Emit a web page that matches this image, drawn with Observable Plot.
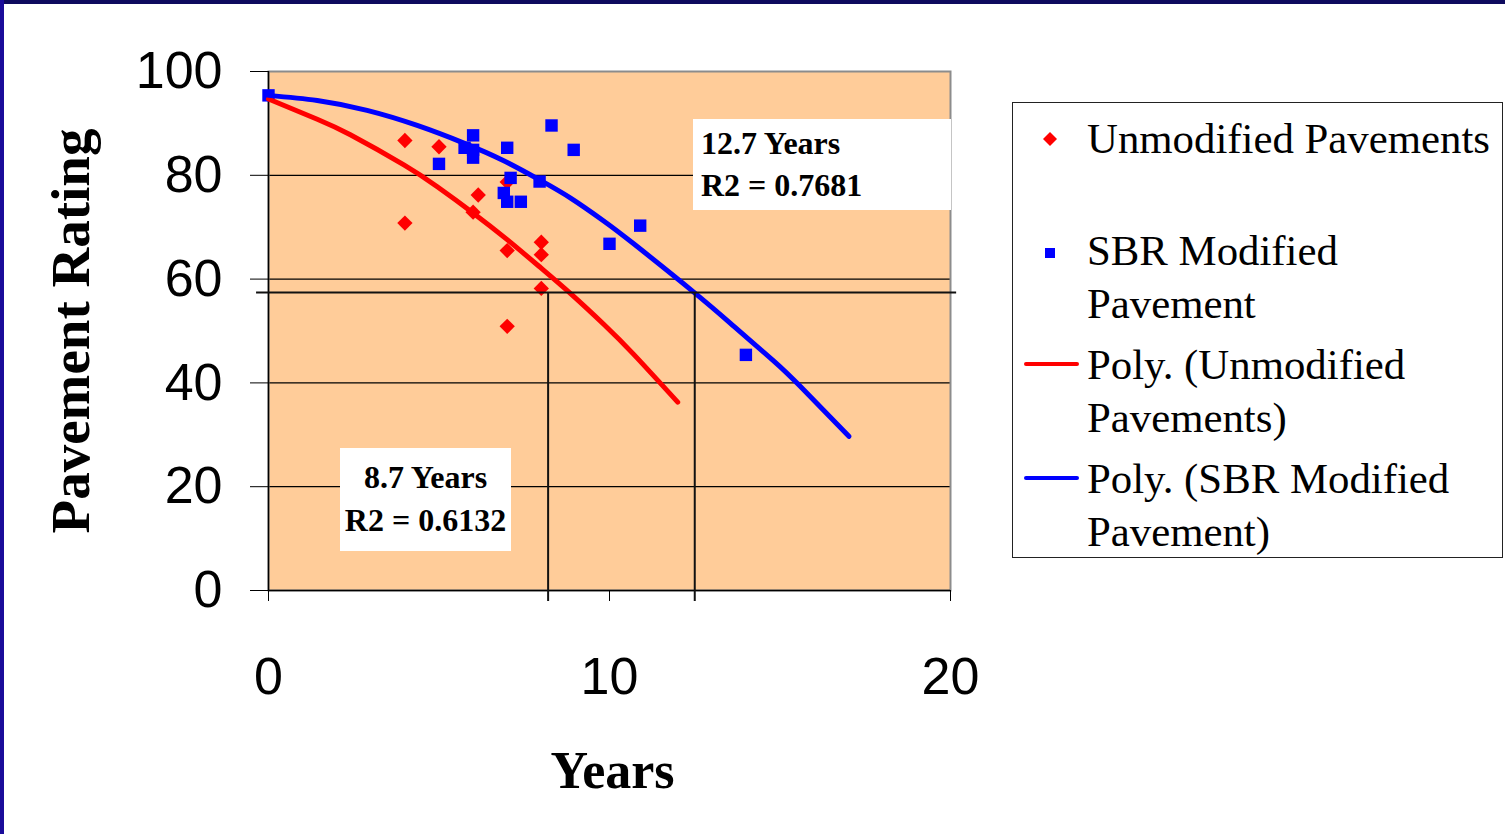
<!DOCTYPE html>
<html><head><meta charset="utf-8">
<script src="https://cdn.jsdelivr.net/npm/d3@7"></script>
<script src="https://cdn.jsdelivr.net/npm/@observablehq/plot@0.6"></script>
<style>
html,body{margin:0;padding:0;background:#fff;}
#wrap{position:relative;width:1505px;height:834px;overflow:hidden;background:#fff;}
#wrap svg{display:block;}
.stripeTop{position:absolute;left:0;top:0;width:1505px;height:4px;background:#0e0a5e;}
.stripeLeft{position:absolute;left:0;top:0;width:4px;height:834px;background:#1a0c9a;}
.ann{position:absolute;background:#fff;font-family:"Liberation Serif","Times New Roman",serif;font-weight:bold;font-size:32px;color:#000;box-sizing:border-box;white-space:nowrap;}
.legend{position:absolute;left:1012px;top:102px;width:491px;height:456px;border:1px solid #222;background:#fff;box-sizing:border-box;font-family:"Liberation Serif","Times New Roman",serif;font-size:42.8px;color:#000;}
.legend .item{position:absolute;left:74px;line-height:52.5px;white-space:nowrap;}
.legend svg{position:absolute;left:0;top:0;}
</style></head><body><div id="wrap"></div>
<script>
// ---- data ----
const unmodYears  = [4, 4, 5, 6.15, 6, 7, 7, 8, 8, 8, 7];
const unmodRating = [86.7, 70.8, 85.5, 76.2, 72.9, 78.7, 65.5, 67.1, 64.7, 58.2, 50.9];

const sbrYears  = [0, 5, 5.75, 6, 6, 6, 7, 8.3, 8.95, 7.1, 7.95, 6.9, 7, 7.4, 10, 10.9, 14];
const sbrRating = [95.4, 82.2, 85.3, 87.7, 84.9, 83.4, 85.3, 89.6, 84.9, 79.5, 78.8, 76.6, 74.9, 74.9, 66.8, 70.3, 45.4];

// trendlines
const unmodFitYears  = [0, 1.43, 2.4, 3.97, 4.95, 5.97, 7.0, 7.98, 8.86, 9.83, 10.71, 12.0];
const unmodFitRating = [94.7, 90.8, 87.8, 82.0, 77.8, 72.9, 67.6, 62.2, 57.2, 51.3, 45.5, 36.3];
const sbrFitYears  = [0, 1.43, 2.89, 4.36, 5.73, 6.9, 7.98, 8.86, 9.83, 10.71, 12.47, 13.65, 14.82, 15.6, 17.02];
const sbrFitRating = [95.4, 94.4, 92.5, 89.6, 86.2, 82.8, 79.0, 75.6, 71.2, 66.8, 57.5, 50.9, 44.2, 39.3, 29.7];

const xTicks = [0, 10, 20];
const yTicks = [0, 20, 40, 60, 80, 100];
const gridRatings = [20, 40, 60, 80];

const thresholdRating = [57.4];
const thresholdLineYears = [-0.35, 20.18];
const thresholdYears = [8.2, 12.5];
const thresholdDropRating = -2.1;

const xTitle = "Years";
const yTitle = "Pavement Rating";
const annSBR = ["12.7 Years", "R2 = 0.7681"];
const annUnmod = ["8.7 Years", "R2 = 0.6132"];
const legendLabels = [
  ["Unmodified Pavements"],
  ["SBR Modified", "Pavement"],
  ["Poly. (Unmodified", "Pavements)"],
  ["Poly. (SBR Modified", "Pavement)"]
];

// ---- build tables ----
const unmod = unmodYears.map((x, i) => ({year: x, rating: unmodRating[i]}));
const sbr = sbrYears.map((x, i) => ({year: x, rating: sbrRating[i]}));
const unmodFit = unmodFitYears.map((x, i) => ({year: x, rating: unmodFitRating[i]}));
const sbrFit = sbrFitYears.map((x, i) => ({year: x, rating: sbrFitRating[i]}));

const RED = "#FF0000", BLUE = "#0000FF", BG = "#FFCC99";
const SERIF = "Liberation Serif, Times New Roman, serif";

const chart = Plot.plot({
  width: 1505, height: 834,
  marginLeft: 268, marginRight: 555, marginTop: 71, marginBottom: 244,
  style: {fontFamily: "Liberation Sans, Arial, sans-serif", background: "white", color: "black", overflow: "visible"},
  x: {domain: [0, 20]},
  y: {domain: [0, 100]},
  marks: [
    Plot.frame({fill: BG, stroke: "none"}),
    Plot.ruleY(gridRatings, {stroke: "#000", strokeWidth: 1.2}),
    Plot.frame({stroke: "#8c8c8c", strokeWidth: 2, fill: "none"}),
    Plot.ruleX([0], {stroke: "#000", strokeWidth: 1.5}),
    Plot.ruleY([0], {stroke: "#000", strokeWidth: 1.5}),
    Plot.axisY({ticks: yTicks, tickSize: 18, tickPadding: 28, fontSize: 52, label: null, stroke: "#000", fill: "#000"}),
    Plot.axisX({ticks: xTicks, tickSize: 11, tickPadding: 56, fontSize: 52, label: null, stroke: "#000", fill: "#000"}),
    Plot.dot(unmod, {x: "year", y: "rating", symbol: "diamond2", r: 6.9, fill: RED, stroke: "none"}),
    Plot.dot(sbr, {x: "year", y: "rating", symbol: "square", r: 7, fill: BLUE, stroke: "none"}),
    Plot.line(unmodFit, {x: "year", y: "rating", curve: "natural", stroke: RED, strokeWidth: 5, strokeLinecap: "round", strokeLinejoin: "round"}),
    Plot.line(sbrFit, {x: "year", y: "rating", curve: "natural", stroke: BLUE, strokeWidth: 5, strokeLinecap: "round", strokeLinejoin: "round"}),
    Plot.ruleY(thresholdRating, {x1: thresholdLineYears[0], x2: thresholdLineYears[1], stroke: "#111", strokeWidth: 2}),
    Plot.ruleX(thresholdYears, {y1: thresholdDropRating, y2: thresholdRating[0], stroke: "#111", strokeWidth: 2}),
    Plot.text([xTitle], {frameAnchor: "bottom", textAnchor: "middle", lineAnchor: "middle", dy: 181, dx: 3, fontSize: 52, fontWeight: "bold", fontFamily: SERIF, fill: "#000"}),
    Plot.text([yTitle], {frameAnchor: "left", textAnchor: "middle", lineAnchor: "middle", rotate: -90, dx: -197, fontSize: 55, fontWeight: "bold", fontFamily: SERIF, fill: "#000"})
  ]
});

const wrap = document.getElementById("wrap");
wrap.appendChild(chart);

// annotation boxes
function addAnn(lines, css, align, lh, pt) {
  const d = document.createElement("div");
  d.className = "ann";
  Object.assign(d.style, css);
  d.style.textAlign = align;
  d.style.lineHeight = lh + "px";
  d.style.paddingTop = pt + "px";
  d.innerHTML = lines.join("<br>");
  wrap.appendChild(d);
}
addAnn(annSBR, {left: "693px", top: "119px", width: "258px", height: "91px", paddingLeft: "8px"}, "left", 42, 3);
addAnn(annUnmod, {left: "340px", top: "448px", width: "171px", height: "103px"}, "center", 43, 8);

// legend
const lg = document.createElement("div");
lg.className = "legend";
const tops = [10, 122, 236, 350];
legendLabels.forEach((lines, i) => {
  const it = document.createElement("div");
  it.className = "item";
  it.style.top = tops[i] + "px";
  it.innerHTML = lines.join("<br>");
  lg.appendChild(it);
});
const ns = "http://www.w3.org/2000/svg";
const ls = document.createElementNS(ns, "svg");
ls.setAttribute("width", 80); ls.setAttribute("height", 450);
ls.innerHTML =
  `<path d="M37 29 L44 36 L37 43 L30 36 Z" fill="${RED}"/>` +
  `<rect x="32" y="145" width="10" height="10" fill="${BLUE}"/>` +
  `<line x1="13" y1="261" x2="64" y2="261" stroke="${RED}" stroke-width="4" stroke-linecap="round"/>` +
  `<line x1="13" y1="375" x2="64" y2="375" stroke="${BLUE}" stroke-width="4" stroke-linecap="round"/>`;
lg.appendChild(ls);
wrap.appendChild(lg);

// slide frame stripes
const st = document.createElement("div"); st.className = "stripeTop"; wrap.appendChild(st);
const sl = document.createElement("div"); sl.className = "stripeLeft"; wrap.appendChild(sl);
</script></body></html>
